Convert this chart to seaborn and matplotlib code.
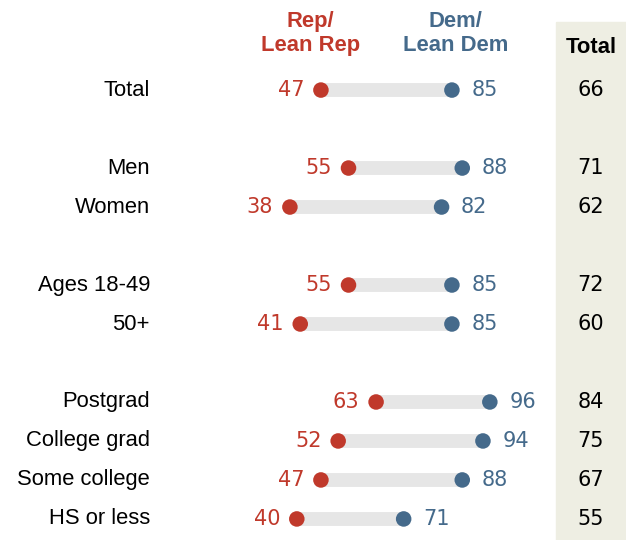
import seaborn as sns
import matplotlib.pyplot as plt
import pandas as pd

groups = ["Total", "Men", "Women", "Ages 18-49", "50+",
          "Postgrad", "College grad", "Some college", "HS or less"]
slots = [0, 2, 3, 5, 6, 8, 9, 10, 11]
rep = [47, 55, 38, 55, 41, 63, 52, 47, 40]
dem = [85, 88, 82, 85, 85, 96, 94, 88, 71]
total = [66, 71, 62, 72, 60, 84, 75, 67, 55]

RED = "#C0392B"
BLUE = "#456A8B"
SHADE = "#EEEEE3"

df = pd.DataFrame({"group": groups, "slot": slots, "rep": rep, "dem": dem, "total": total})
long = df.melt(id_vars=["group", "slot"], value_vars=["rep", "dem"],
               var_name="party", value_name="pct")

sns.set_theme(style="white")
plt.rcParams["font.family"] = ["Liberation Sans", "DejaVu Sans"]

fig = plt.figure(figsize=(6.26, 5.4), dpi=100)
ax = fig.add_axes([0, 0, 1, 1])
ax.set_xlim(-46.1, 135.5)
ax.set_ylim(11.54, -2.31)
ax.axis("off")

# shaded total column
ax.axvspan(115.2, 140, ymin=0, ymax=(11.54 + 1.74) / (11.54 + 2.31), color=SHADE, zorder=0)

# grey connecting bars
ax.hlines(df["slot"], df["rep"], df["dem"], color="#E6E6E6", lw=10, zorder=1)

sns.scatterplot(data=long, x="pct", y="slot", hue="party",
                palette={"rep": RED, "dem": BLUE}, s=125, linewidth=0,
                legend=False, zorder=3, ax=ax)

fs = 15.8
nfs = 15
num_font = ["DejaVu Sans"]
for _, r in df.iterrows():
    ax.text(-2.6, r["slot"], r["group"], ha="right", va="center", fontsize=fs, color="black")
    ax.annotate(str(r["rep"]), (r["rep"], r["slot"]), xytext=(-12, 0), textcoords="offset points",
                ha="right", va="center", fontsize=nfs, color=RED, family=num_font)
    ax.annotate(str(r["dem"]), (r["dem"], r["slot"]), xytext=(14, 0), textcoords="offset points",
                ha="left", va="center", fontsize=nfs, color=BLUE, family=num_font)
    ax.text(125.3, r["slot"], str(r["total"]), ha="center", va="center", fontsize=nfs,
            color="black", family=num_font)

ax.text(44, -1.45, "Rep/\nLean Rep", ha="center", va="center", fontsize=fs,
        fontweight="bold", color=RED, linespacing=1.2)
ax.text(86, -1.45, "Dem/\nLean Dem", ha="center", va="center", fontsize=fs,
        fontweight="bold", color=BLUE, linespacing=1.2)
ax.text(125.3, -1.1, "Total", ha="center", va="center", fontsize=fs,
        fontweight="bold", color="black")

fig.savefig("out.png", dpi=100)
